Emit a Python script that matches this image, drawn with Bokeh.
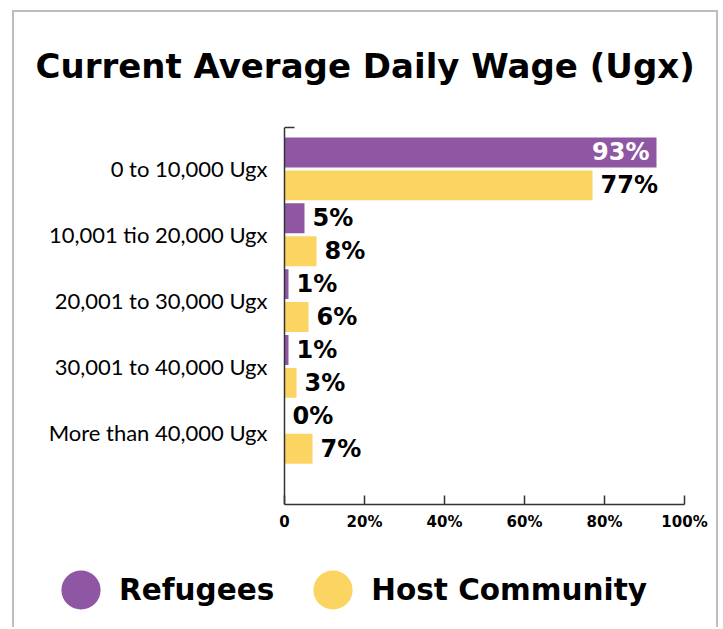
from bokeh.plotting import figure
from bokeh.models import (ColumnDataSource, Range1d, FixedTicker, Legend, LegendItem,
                          Column, Span, LinearAxis)
from bokeh.embed import file_html
from bokeh.resources import INLINE
from bokeh.core.properties import value

# ---- data ----
categories = ["0 to 10,000 Ugx", "10,001 tio 20,000 Ugx", "20,001 to 30,000 Ugx",
              "30,001 to 40,000 Ugx", "More than 40,000 Ugx"]
refugees = [93, 5, 1, 1, 0]
host = [77, 8, 6, 3, 7]
x_ticks = [0, 20, 40, 60, 80, 100]
x_tick_labels = ["0", "20%", "40%", "60%", "80%", "100%"]
series_names = ["Refugees", "Host Community"]

PURPLE = "#8F57A3"
YELLOW = "#FCD462"
AXIS = "#333333"
BOLD = "DejaVu Sans"
W = 702

n = len(categories)
pos = list(range(n))

p = figure(width=W, height=522, output_backend="svg", toolbar_location=None,
           x_range=Range1d(-64.5, 104), y_range=Range1d(5.098, -0.629),
           y_axis_location=None,
           min_border_left=12, min_border_right=16, min_border_top=115,
           min_border_bottom=30)
p.outline_line_color = None
p.xgrid.visible = False
p.ygrid.visible = False
p.background_fill_color = "white"
p.border_fill_color = "white"

# title
p.title.text = "Current Average Daily Wage (Ugx)"
p.title.align = "left"
p.title.offset = 9
p.title.text_font = BOLD
p.title.text_font_style = "bold"
p.title.text_font_size = "34px"
p.title.text_color = "black"
p.title.standoff = 60

# bars
bar_h = 0.4545
def make_src(vals, shift):
    return ColumnDataSource(dict(
        y=[i + shift for i in pos], v=vals,
        lab=[f"{v}%" for v in vals],
        col=["white" if v > 85 else "black" for v in vals],
        al=["right" if v > 85 else "left" for v in vals],
        off=[-7 if v > 85 else 8 for v in vals]))

ref_src = make_src(refugees, -0.25)
host_src = make_src(host, 0.25)

p.hbar(y="y", right="v", left=0, height=bar_h, source=ref_src,
       fill_color=PURPLE, line_color=None)
p.hbar(y="y", right="v", left=0, height=bar_h, source=host_src,
       fill_color=YELLOW, line_color=None)

for src in (ref_src, host_src):
    p.text(x="v", y="y", text="lab", source=src, x_offset="off",
           text_align="al", text_color="col", text_baseline="middle",
           text_font=value(BOLD), text_font_style="bold", text_font_size="24px")

# value axis (bottom)
xa = p.xaxis[0]
xa.bounds = (0, 100)
xa.ticker = FixedTicker(ticks=x_ticks)
xa.major_label_overrides = {t: l for t, l in zip(x_ticks, x_tick_labels)}
xa.major_label_text_font = BOLD
xa.major_label_text_font_style = "bold"
xa.major_label_text_font_size = "15px"
xa.major_label_text_color = "black"
xa.major_tick_in = 9
xa.major_tick_out = 0
xa.minor_tick_line_color = None
xa.axis_line_color = AXIS
xa.axis_line_width = 1.5
xa.major_tick_line_color = AXIS
xa.major_tick_line_width = 1.5
xa.major_label_standoff = 8

# category axis: line at x = 0, short cap at its top, and category labels
p.add_layout(Span(location=0, dimension="height", line_color=AXIS, line_width=1.5))
cap = LinearAxis(bounds=(0, 2.5), ticker=FixedTicker(ticks=[1]),
                 major_label_overrides={1: ""},
                 axis_line_color=AXIS, axis_line_width=1.5,
                 major_tick_out=12, major_tick_in=0, minor_tick_out=0, minor_tick_in=0,
                 major_tick_line_color=None, minor_tick_line_color=None,
                 major_label_standoff=0, major_label_text_font_size="0px")
p.add_layout(cap, "above")
cat_src = ColumnDataSource(dict(x=[0] * n, y=pos, t=categories))
p.text(x="x", y="y", text="t", source=cat_src, x_offset=-17, text_align="right",
       text_baseline="middle", text_font=value("Lato"), text_font_size="22px",
       text_color="black")

# legend strip
q = figure(width=W, height=93, output_backend="svg", toolbar_location=None,
           x_range=Range1d(0, 1), y_range=Range1d(0, 1),
           x_axis_location=None, y_axis_location=None,
           min_border_left=12, min_border_right=16, min_border_top=0, min_border_bottom=0)
q.outline_line_color = None
q.xgrid.visible = False
q.ygrid.visible = False
q.border_fill_color = "white"
e1 = q.ellipse(x="v", y="y", width=0.01, height=0.01, width_units="screen",
               height_units="screen", source=ref_src, fill_color=PURPLE, line_color=None)
e2 = q.ellipse(x="v", y="y", width=0.01, height=0.01, width_units="screen",
               height_units="screen", source=host_src, fill_color=YELLOW, line_color=None)
legend = Legend(items=[LegendItem(label=series_names[0], renderers=[e1], index=0),
                       LegendItem(label=series_names[1], renderers=[e2], index=0)],
                orientation="horizontal", location=(30, 13),
                glyph_width=49, glyph_height=49, label_standoff=14, spacing=34,
                padding=0, margin=0, border_line_color=None,
                background_fill_alpha=0,
                label_text_font=BOLD, label_text_font_style="bold",
                label_text_font_size="29.5px", label_text_color="black")
q.add_layout(legend, "center")

layout = Column(p, q, spacing=0)
layout.styles = {"margin-left": "12px", "margin-top": "10px",
                 "border-left": "2px solid #bdbdbd", "border-top": "2px solid #bdbdbd",
                 "border-right": "2px solid #bdbdbd"}

open("out.html", "w").write(file_html(layout, INLINE))
